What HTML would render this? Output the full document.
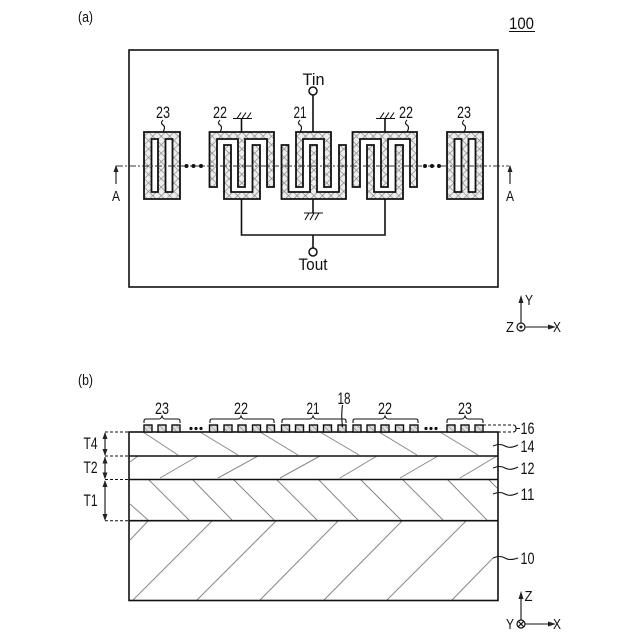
<!DOCTYPE html>
<html><head><meta charset="utf-8"><style>
html,body{margin:0;padding:0;background:#fff}
svg{display:block}
text{font-family:"Liberation Sans",sans-serif;font-size:17px;fill:#111;text-anchor:middle}
.h{stroke:#888;stroke-width:1;fill:none}
.k{stroke:#111;stroke-width:1.6;fill:none}
.t{stroke:#111;stroke-width:1.1;fill:none}
.d{stroke:#111;stroke-width:1;fill:none;stroke-dasharray:3 2}
.c{fill:url(#x);stroke:#111;stroke-width:1.8;fill-rule:evenodd}
.e{fill:url(#y);stroke:#111;stroke-width:1.4}
</style></head><body>
<svg width="640" height="640" viewBox="0 0 640 640" xmlns="http://www.w3.org/2000/svg">
<defs>
<pattern id="x" width="6" height="6" patternUnits="userSpaceOnUse" patternTransform="rotate(45)">
<rect width="6" height="6" fill="#ededed"/><path d="M0 0H6M0 0V6" stroke="#808080" stroke-width="1.300"/>
</pattern>
<pattern id="y" width="4" height="4" patternUnits="userSpaceOnUse" patternTransform="rotate(45)">
<rect width="4" height="4" fill="#ddd"/><path d="M0 0H4" stroke="#777" stroke-width="1"/>
</pattern>
</defs>

<!-- (a) -->
<text x="85.5" y="22" textLength="15" lengthAdjust="spacingAndGlyphs" style="font-size:15px">(a)</text>
<text x="521.5" y="29" textLength="25" lengthAdjust="spacingAndGlyphs">100</text>
<path class="t" d="M509 31.5H535"/>
<rect x="129" y="50" width="369" height="237" class="k"/>

<!-- combs -->
<path class="c" d="M144 132H180V199H144ZM151.500 139V192H158V139ZM165.500 139V192H172.500V139Z"/>
<path class="c" d="M447 132H483V199H447ZM454.500 139V192H461.500V139ZM468.500 139V192H475.500V139Z"/>
<path class="c" d="M209.500 132H274V187H267V139H245V187H238V139H217V187H209.500Z"/>
<path class="c" d="M224 145H231V192H252.500V145H260V199H224Z"/>
<path class="c" d="M296 132H331V187H324V139H303V187H296Z"/>
<path class="c" d="M281.500 145H288.500V192H310V145H317V192H339V145H346V199H281.500Z"/>
<path class="c" d="M352.500 132H417V187H410V139H388V187H381V139H360V187H352.500Z"/>
<path class="c" d="M367 145H374V192H395.500V145H403V199H367Z"/>

<!-- centre line -->
<path d="M116 166H509" stroke="#333" stroke-width="1" stroke-dasharray="7 2 2 2" fill="none"/>
<circle cx="186.500" cy="166" r="2" fill="#111"/><circle cx="193.500" cy="166" r="2" fill="#111"/><circle cx="201" cy="166" r="2" fill="#111"/>
<circle cx="425" cy="166" r="2" fill="#111"/><circle cx="432" cy="166" r="2" fill="#111"/><circle cx="439" cy="166" r="2" fill="#111"/>
<path class="t" d="M116 166V184M510 166V184"/>
<path d="M116 165l-2.500 7h5zM510 165l-2.500 7h5z" fill="#222"/>
<text x="116" y="201" textLength="8" lengthAdjust="spacingAndGlyphs" style="font-size:15px">A</text>
<text x="510" y="201" textLength="8" lengthAdjust="spacingAndGlyphs" style="font-size:15px">A</text>

<!-- wiring -->
<path class="k" d="M313 95V132M313 199V213M241.500 199V235H385V199M313 235V248M241.500 132V118M385 132V118"/>
<circle cx="313" cy="91" r="4" fill="#fff" stroke="#111" stroke-width="1.500"/>
<circle cx="313" cy="252" r="4" fill="#fff" stroke="#111" stroke-width="1.500"/>
<path class="t" d="M233 118.500H252M237 118.500l4-6M242 118.500l4-6M247 118.500l4-6"/>
<path class="t" d="M376 118.500H395M380 118.500l4-6M385 118.500l4-6M390 118.500l4-6"/>
<path class="t" d="M304 213H323M305 220l4-7M310 220l4-7M315 220l4-7"/>
<text x="313.500" y="85" textLength="22" lengthAdjust="spacingAndGlyphs">Tin</text>
<text x="313" y="270" textLength="29" lengthAdjust="spacingAndGlyphs">Tout</text>

<text x="163" y="118" textLength="14" lengthAdjust="spacingAndGlyphs">23</text>
<text x="220" y="118" textLength="14" lengthAdjust="spacingAndGlyphs">22</text>
<text x="300" y="118" textLength="13" lengthAdjust="spacingAndGlyphs">21</text>
<text x="406" y="118" textLength="14" lengthAdjust="spacingAndGlyphs">22</text>
<text x="464" y="118" textLength="14" lengthAdjust="spacingAndGlyphs">23</text>
<path class="t" d="M163 120q-3 3 0 5t0 7M220 120q-3 3 0 5t0 7M300 120q-3 3 0 5t0 7M407 120q-3 3 0 5t0 7M464 120q-3 3 0 5t0 7"/>

<!-- XYZ top -->
<path class="t" d="M521 323V300M525 327H550"/>
<path d="M521 295l-2.500 8h5zM556 327l-8-2.500v5z" fill="#222"/>
<circle cx="521" cy="327" r="4" fill="#fff" stroke="#111" stroke-width="1.200"/><circle cx="521" cy="327" r="1.500" fill="#222"/>
<text x="529" y="305" textLength="8" lengthAdjust="spacingAndGlyphs" style="font-size:15px">Y</text>
<text x="510" y="332" textLength="8" lengthAdjust="spacingAndGlyphs" style="font-size:15px">Z</text>
<text x="557" y="332" textLength="8" lengthAdjust="spacingAndGlyphs" style="font-size:15px">X</text>

<!-- (b) -->
<text x="85.500" y="385" textLength="15" lengthAdjust="spacingAndGlyphs" style="font-size:15px">(b)</text>

<!-- hatching -->
<path class="h" d="M143 432L178 455M200 432L238 455M260 432L298 455M320 432L359 455M379 432L417 455M440 432L478 455"/>
<path class="h" d="M130 462L138 456M160 478L198 456M218 478L258 456M280 478L320 456M340 478L377 456M400 478L438 456M460 478L497 456"/>
<path class="h" d="M148 479L189 520M192 479L232 520M233 479L274 520M276 479L317 520M318 479L358 520M360 479L401 520M402 479L443 520M447 479L487 520M488 479L497 488M130 504L148 520"/>
<path class="h" d="M148 521L130 540M212 521L133 600M276 521L197 600M338 521L260 600M402 521L324 600M466 521L387 600M493 558L452 600"/>

<rect x="129" y="432" width="369" height="168.500" class="k"/>
<path class="k" d="M129 456H498M129 479.500H498M129 520.700H498"/>

<!-- electrodes -->
<g class="e">
<rect x="144" y="425" width="8" height="7"/><rect x="158" y="425" width="8" height="7"/><rect x="172" y="425" width="8" height="7"/>
<rect x="209.500" y="425" width="8" height="7"/><rect x="224" y="425" width="8" height="7"/><rect x="238" y="425" width="8" height="7"/><rect x="252.500" y="425" width="8" height="7"/><rect x="267" y="425" width="7.500" height="7"/>
<rect x="281.500" y="425" width="8" height="7"/><rect x="295.500" y="425" width="8" height="7"/><rect x="309.500" y="425" width="8" height="7"/><rect x="323.500" y="425" width="8" height="7"/><rect x="338" y="425" width="8" height="7"/>
<rect x="353" y="425" width="8" height="7"/><rect x="367" y="425" width="8" height="7"/><rect x="381" y="425" width="8" height="7"/><rect x="395.500" y="425" width="8" height="7"/><rect x="410" y="425" width="8" height="7"/>
<rect x="447" y="425" width="8" height="7"/><rect x="461" y="425" width="8" height="7"/><rect x="475" y="425" width="8" height="7"/>
</g>
<circle cx="191" cy="428.500" r="1.600" fill="#111"/><circle cx="196" cy="428.500" r="1.600" fill="#111"/><circle cx="201" cy="428.500" r="1.600" fill="#111"/>
<circle cx="426" cy="428.500" r="1.600" fill="#111"/><circle cx="431" cy="428.500" r="1.600" fill="#111"/><circle cx="436" cy="428.500" r="1.600" fill="#111"/>

<!-- braces -->
<path class="t" d="M144 423V421q0-2 2-2H159q2 0 3-3q1 3 3 3H178q2 0 2 2V423"/>
<path class="t" d="M210 423V421q0-2 2-2H238q2 0 3-3q1 3 3 3H272q2 0 2 2V423"/>
<path class="t" d="M282 423V421q0-2 2-2H310q2 0 3-3q1 3 3 3H344q2 0 2 2V423"/>
<path class="t" d="M353 423V421q0-2 2-2H382q2 0 3-3q1 3 3 3H416q2 0 2 2V423"/>
<path class="t" d="M447 423V421q0-2 2-2H462q2 0 3-3q1 3 3 3H481q2 0 2 2V423"/>
<text x="162" y="414" textLength="14" lengthAdjust="spacingAndGlyphs">23</text>
<text x="241" y="414" textLength="14" lengthAdjust="spacingAndGlyphs">22</text>
<text x="313" y="414" textLength="13" lengthAdjust="spacingAndGlyphs">21</text>
<text x="385" y="414" textLength="14" lengthAdjust="spacingAndGlyphs">22</text>
<text x="465" y="414" textLength="14" lengthAdjust="spacingAndGlyphs">23</text>
<text x="344" y="404" textLength="13" lengthAdjust="spacingAndGlyphs">18</text>
<path class="t" d="M342.500 405Q341 415 342.500 427"/>

<!-- thickness -->
<path class="d" d="M105 432H129M105 456H129M105 479.500H129M105 520.700H129"/>
<path class="t" d="M105 433V455M105 457V478M105 481V519"/>
<path d="M105 432l-2.500 7h5zM105 456l-2.500-7h5zM105 456.500l-2.500 7h5zM105 479.500l-2.500-7h5zM105 480l-2.500 7h5zM105 521l-2.500-7h5z" fill="#222"/>
<text x="90.500" y="449" textLength="14" lengthAdjust="spacingAndGlyphs">T4</text>
<text x="90.500" y="473" textLength="14" lengthAdjust="spacingAndGlyphs">T2</text>
<text x="90.500" y="506" textLength="14" lengthAdjust="spacingAndGlyphs">T1</text>

<!-- right labels -->
<path class="d" d="M483 425H513M483 432H513"/>
<path class="t" d="M513 425q3 0 3 3.500t-3 3.500M516 428.500H520"/>
<path class="t" d="M493 446q7-3 12 0t13-1M493 468q7-3 12 0t13-1M493 494q7-3 12 0t13-1M493 558q7-3 12 0t13 0"/>
<text x="527.500" y="434" textLength="14" lengthAdjust="spacingAndGlyphs">16</text>
<text x="527.500" y="452" textLength="14" lengthAdjust="spacingAndGlyphs">14</text>
<text x="527.500" y="474" textLength="14" lengthAdjust="spacingAndGlyphs">12</text>
<text x="527.500" y="500" textLength="14" lengthAdjust="spacingAndGlyphs">11</text>
<text x="527.500" y="564" textLength="14" lengthAdjust="spacingAndGlyphs">10</text>

<!-- XYZ bottom -->
<path class="t" d="M521 620V596M525 624H550"/>
<path d="M521 591l-2.500 8h5zM556 624l-8-2.500v5z" fill="#222"/>
<circle cx="521" cy="624" r="4" fill="#fff" stroke="#111" stroke-width="1.200"/>
<path class="t" d="M518.300 621.300l5.400 5.400M523.700 621.300l-5.400 5.400"/>
<text x="528.500" y="601" textLength="8" lengthAdjust="spacingAndGlyphs" style="font-size:15px">Z</text>
<text x="510" y="629" textLength="8" lengthAdjust="spacingAndGlyphs" style="font-size:15px">Y</text>
<text x="557" y="629" textLength="8" lengthAdjust="spacingAndGlyphs" style="font-size:15px">X</text>
</svg>
</body></html>
